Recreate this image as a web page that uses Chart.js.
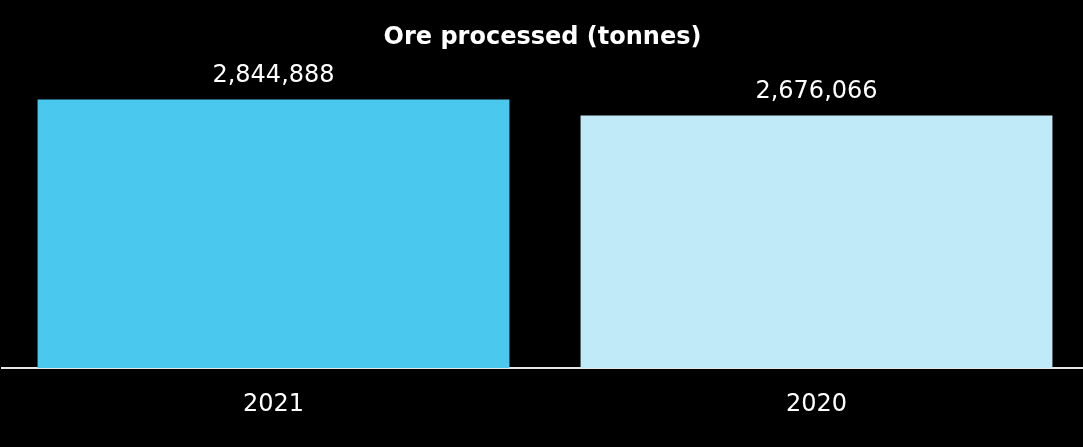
<!DOCTYPE html>
<html>
<head>
<meta charset="utf-8">
<script src="https://cdn.jsdelivr.net/npm/chart.js@4"></script>
<style>
  html, body { margin: 0; padding: 0; background: #000; }
  #wrap { width: 1083px; height: 447px; }
</style>
</head>
<body>
<div id="wrap"><canvas id="chart" width="1083" height="447"></canvas></div>
<script>
const years = ["2021", "2020"];
const oreTonnes = [2844888, 2676066];
const barColors = ["#4bc8ee", "#c0eaf7"];

const FONT = "'DejaVu Sans', sans-serif";

// prints the tonnage above each bar
const valueLabels = {
  id: "valueLabels",
  afterDatasetsDraw(chart) {
    const ctx = chart.ctx;
    const meta = chart.getDatasetMeta(0);
    ctx.save();
    ctx.fillStyle = "#ffffff";
    ctx.font = "24px " + FONT;
    ctx.textAlign = "center";
    ctx.textBaseline = "alphabetic";
    meta.data.forEach((bar, i) => {
      ctx.fillText(oreTonnes[i].toLocaleString("en-US"), bar.x, bar.y - 17);
    });
    ctx.restore();
  }
};

// let the category band run slightly past the right edge of the canvas
const widenX = {
  id: "widenX",
  afterLayout(chart) {
    const s = chart.scales.x;
    s.right = s.left + 1086;
    s.width = 1086;
    s.configure();
  }
};

const ctx = document.getElementById("chart").getContext("2d");
new Chart(ctx, {
  type: "bar",
  data: {
    labels: years,
    datasets: [{
      data: oreTonnes,
      backgroundColor: barColors,
      borderWidth: 0,
      categoryPercentage: 1,
      barPercentage: 0.869
    }]
  },
  options: {
    responsive: false,
    animation: false,
    layout: { padding: { left: 2, right: 0, top: 0, bottom: 0 } },
    plugins: {
      legend: { display: false },
      tooltip: { enabled: false },
      title: {
        display: true,
        text: "Ore processed (tonnes)",
        color: "#ffffff",
        font: { family: FONT, size: 24, weight: "bold" },
        padding: { top: 23, bottom: 33 }
      }
    },
    scales: {
      x: {
        grid: { display: false, drawTicks: false },
        border: { display: true, color: "#e6e6e6", width: 2 },
        ticks: { color: "#ffffff", font: { family: FONT, size: 24 }, padding: 22 },
        afterFit(scale) { scale.height = 79; }
      },
      y: {
        display: false,
        min: 0,
        max: 3000000
      }
    }
  },
  plugins: [valueLabels, widenX]
});
</script>
</body>
</html>
